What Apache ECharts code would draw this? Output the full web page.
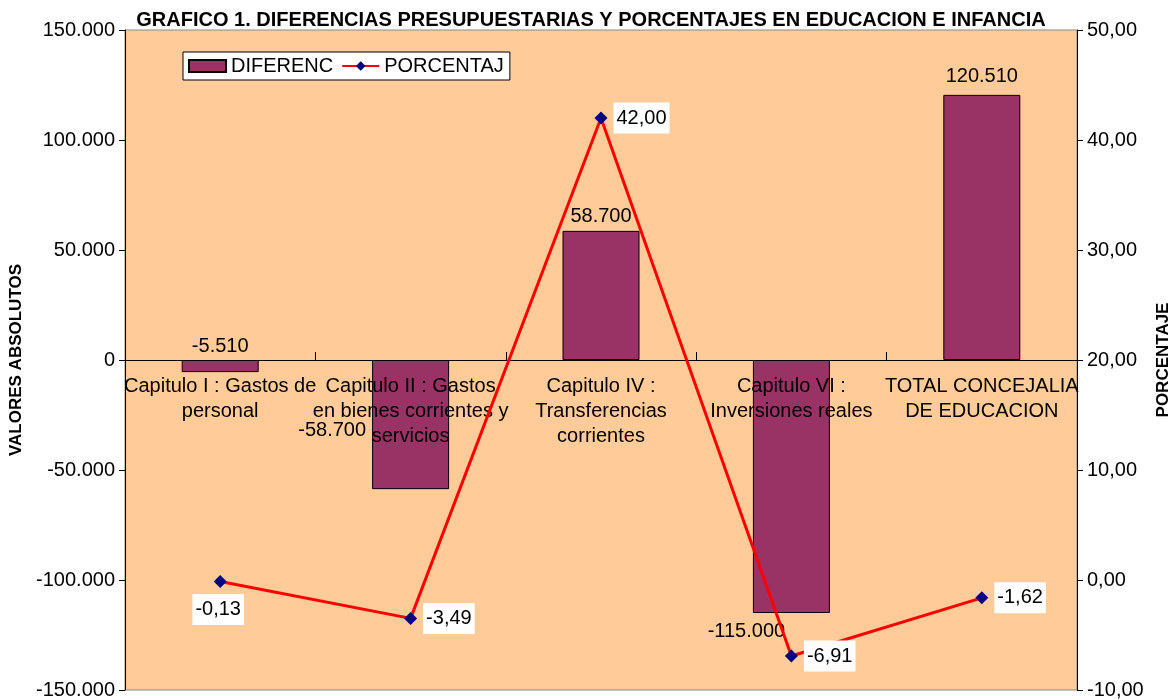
<!DOCTYPE html>
<html>
<head>
<meta charset="utf-8">
<title>Grafico 1</title>
<script src="https://cdn.jsdelivr.net/npm/echarts@6/dist/echarts.min.js"></script>
<style>
  html, body { margin: 0; padding: 0; background: #fff; }
  #chart { width: 1172px; height: 700px; }
</style>
</head>
<body>
<div id="chart"></div>
<script>
const categories = [
  'Capitulo I : Gastos de\npersonal',
  'Capitulo II : Gastos\nen bienes corrientes y\nservicios',
  'Capitulo IV :\nTransferencias\ncorrientes',
  'Capitulo VI :\nInversiones reales',
  'TOTAL CONCEJALIA\nDE EDUCACION'
]
const diferencias = [-5510, -58700, 58700, -115000, 120510]
const porcentajes = [-0.13, -3.49, 42.00, -6.91, -1.62]

const FONT = '"Liberation Sans", Arial, sans-serif'

// miles con punto, decimales con coma
const fmtMiles = (v) => {
  const s = String(Math.abs(Math.round(v))).replace(/\B(?=(\d{3})+(?!\d))/g, '.')
  return (v < 0 ? '-' : '') + s
}
const fmtPct = (v) => v.toFixed(2).replace('.', ',')

// posicion de etiquetas como en el original
const barLabelStyle = [
  { position: 'top', distance: 4 },
  { position: 'left', distance: 6, offset: [0, 6] },
  { position: 'top', distance: 4 },
  { position: 'bottom', distance: 4, offset: [-45, 4] },
  { position: 'top', distance: 8 }
]
const lineLabelStyle = [
  { position: 'bottom', distance: 6, offset: [-2, 0] },
  { position: 'right', distance: 6 },
  { position: 'right', distance: 6 },
  { position: 'right', distance: 6 },
  { position: 'right', distance: 6 }
]

const GRID_TOP = 30
const GRID_BOTTOM = 10
const chart = echarts.init(document.getElementById('chart'))

// el eje de categorias va sobre el cero del eje izquierdo (centro del area)
const plotH = 700 - GRID_TOP - GRID_BOTTOM
const zeroOffset = -plotH / 2

chart.setOption({
  animation: false,
  textStyle: { fontFamily: FONT },
  title: {
    text: 'GRAFICO 1. DIFERENCIAS PRESUPUESTARIAS Y PORCENTAJES EN EDUCACION E INFANCIA',
    left: 586,
    textAlign: 'center',
    top: 5,
    textStyle: { fontFamily: FONT, fontSize: 20, fontWeight: 'bold', color: '#000' }
  },
  legend: {
    left: 183,
    top: 52,
    backgroundColor: '#fff',
    borderColor: '#000',
    borderWidth: 1,
    padding: [4, 6, 4, 5],
    itemGap: 8,
    itemWidth: 37,
    itemHeight: 12,
    textStyle: { fontFamily: FONT, fontSize: 20, color: '#000' },
    data: [
      { name: 'DIFERENC', icon: 'rect' },
      { name: 'PORCENTAJ' }
    ]
  },
  grid: {
    left: 125,
    right: 95,
    top: GRID_TOP,
    bottom: GRID_BOTTOM,
    outerBoundsMode: 'none',
    containLabel: false,
    show: true,
    backgroundColor: '#FFCC99',
    borderColor: '#888',
    borderWidth: 1
  },
  xAxis: {
    type: 'category',
    data: categories,
    offset: zeroOffset,
    z: 3,
    axisLine: { onZero: false, lineStyle: { color: '#000', width: 1 } },
    axisTick: { show: true, inside: true, length: 8, lineStyle: { color: '#000' } },
    axisLabel: {
      interval: 0,
      margin: 14,
      fontFamily: FONT,
      fontSize: 20,
      lineHeight: 25,
      color: '#000',
      align: 'center'
    },
    splitLine: { show: false }
  },
  yAxis: [
    {
      type: 'value',
      min: -150000,
      max: 150000,
      interval: 50000,
      name: 'VALORES ABSOLUTOS',
      nameLocation: 'middle',
      nameRotate: 90,
      nameGap: 98,
      nameTextStyle: { fontFamily: FONT, fontSize: 17, fontWeight: 'bold', color: '#000' },
      axisLine: { show: true, lineStyle: { color: '#000' } },
      axisTick: { show: true, length: 6, lineStyle: { color: '#000' } },
      axisLabel: { fontFamily: FONT, fontSize: 20, color: '#000', margin: 10, formatter: fmtMiles },
      splitLine: { show: false }
    },
    {
      type: 'value',
      min: -10,
      max: 50,
      interval: 10,
      position: 'right',
      name: 'PORCENTAJE',
      nameLocation: 'middle',
      nameRotate: 90,
      nameGap: 72,
      nameTextStyle: { fontFamily: FONT, fontSize: 17, fontWeight: 'bold', color: '#000' },
      axisLine: { show: true, lineStyle: { color: '#000' } },
      axisTick: { show: true, length: 6, lineStyle: { color: '#000' } },
      axisLabel: { fontFamily: FONT, fontSize: 20, color: '#000', margin: 10, formatter: fmtPct },
      splitLine: { show: false }
    }
  ],
  series: [
    {
      name: 'DIFERENC',
      type: 'bar',
      yAxisIndex: 0,
      z: 2,
      barWidth: 77,
      itemStyle: { color: '#993366', borderColor: '#000', borderWidth: 1 },
      data: diferencias.map((v, i) => ({
        value: v,
        label: {
          show: true,
          fontFamily: FONT,
          fontSize: 20,
          color: '#000',
          formatter: (p) => fmtMiles(p.value),
          ...barLabelStyle[i]
        }
      }))
    },
    {
      name: 'PORCENTAJ',
      type: 'line',
      yAxisIndex: 1,
      z: 5,
      symbol: 'diamond',
      symbolSize: 13,
      lineStyle: { color: '#FF0000', width: 3 },
      itemStyle: { color: '#000080' },
      data: porcentajes.map((v, i) => ({
        value: v,
        label: {
          show: true,
          fontFamily: FONT,
          fontSize: 20,
          color: '#000',
          backgroundColor: '#fff',
          padding: [6, 3, 5, 3],
          formatter: (p) => fmtPct(p.value),
          ...lineLabelStyle[i]
        }
      }))
    }
  ]
})

window.addEventListener('resize', () => chart.resize())
</script>
</body>
</html>
